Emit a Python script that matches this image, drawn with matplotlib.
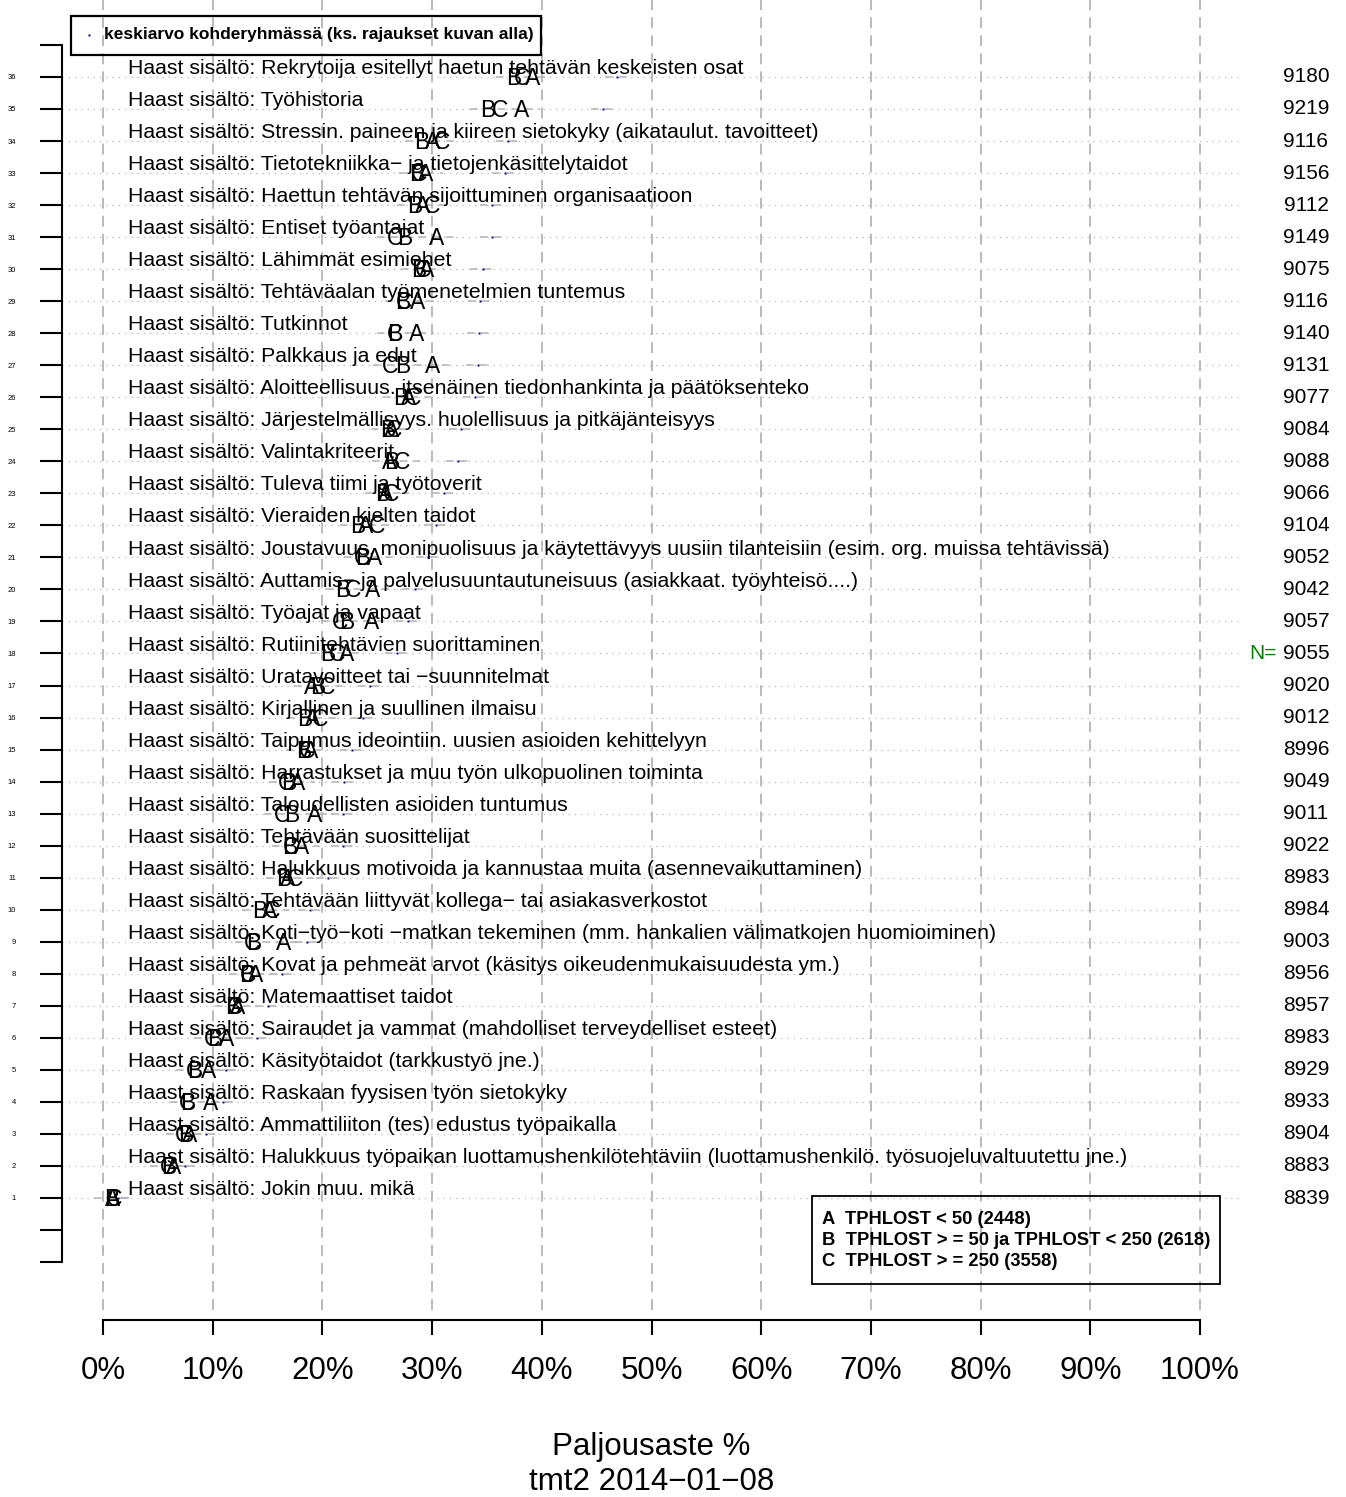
import numpy as np
import matplotlib
matplotlib.use("Agg")
import matplotlib.pyplot as plt
from matplotlib.patches import Rectangle

plt.rcParams['font.family'] = ['Liberation Sans', 'DejaVu Sans']

# rows listed top (36) to bottom (1)
labels = [
    "Rekrytoija esitellyt haetun tehtävän keskeisten osat",
    "Työhistoria",
    "Stressin. paineen ja kiireen sietokyky (aikataulut. tavoitteet)",
    "Tietotekniikka− ja tietojenkäsittelytaidot",
    "Haettun tehtävän sijoittuminen organisaatioon",
    "Entiset työantajat",
    "Lähimmät esimiehet",
    "Tehtäväalan työmenetelmien tuntemus",
    "Tutkinnot",
    "Palkkaus ja edut",
    "Aloitteellisuus. itsenäinen tiedonhankinta ja päätöksenteko",
    "Järjestelmällisyys. huolellisuus ja pitkäjänteisyys",
    "Valintakriteerit",
    "Tuleva tiimi ja työtoverit",
    "Vieraiden kielten taidot",
    "Joustavuus. monipuolisuus ja käytettävyys uusiin tilanteisiin (esim. org. muissa tehtävissä)",
    "Auttamis− ja palvelusuuntautuneisuus (asiakkaat. työyhteisö....)",
    "Työajat ja vapaat",
    "Rutiinitehtävien suorittaminen",
    "Uratavoitteet tai −suunnitelmat",
    "Kirjallinen ja suullinen ilmaisu",
    "Taipumus ideointiin. uusien asioiden kehittelyyn",
    "Harrastukset ja muu työn ulkopuolinen toiminta",
    "Taloudellisten asioiden tuntumus",
    "Tehtävään suosittelijat",
    "Halukkuus motivoida ja kannustaa muita (asennevaikuttaminen)",
    "Tehtävään liittyvät kollega− tai asiakasverkostot",
    "Koti−työ−koti −matkan tekeminen (mm. hankalien välimatkojen huomioiminen)",
    "Kovat ja pehmeät arvot (käsitys oikeudenmukaisuudesta ym.)",
    "Matemaattiset taidot",
    "Sairaudet ja vammat (mahdolliset terveydelliset esteet)",
    "Käsityötaidot (tarkkustyö jne.)",
    "Raskaan fyysisen työn sietokyky",
    "Ammattiliiton (tes) edustus työpaikalla",
    "Halukkuus työpaikan luottamushenkilötehtäviin (luottamushenkilö. työsuojeluvaltuutettu jne.)",
    "Jokin muu. mikä",
]
grp_a = [39.2, 38.2, 30.0, 29.4, 29.1, 30.4, 29.5, 28.7, 28.6, 30.0, 27.9, 26.3,
         26.1, 25.8, 23.9, 24.8, 24.6, 24.5, 22.2, 19.0, 19.1, 18.9, 17.7, 19.3,
         18.1, 16.8, 15.2, 16.5, 13.9, 12.3, 11.3, 9.6, 9.8, 7.9, 6.4, 0.9]
grp_b = [37.4, 35.1, 29.1, 28.6, 28.4, 27.5, 28.8, 27.3, 26.6, 27.3, 27.1, 26.0,
         26.3, 25.5, 23.2, 23.7, 21.9, 22.2, 20.5, 19.6, 18.4, 18.3, 16.9, 17.2,
         17.0, 16.5, 14.3, 13.7, 13.1, 11.8, 10.2, 8.4, 7.7, 7.5, 6.0, 0.8]
grp_c = [38.2, 36.2, 30.9, 28.8, 30.0, 26.6, 29.2, 27.4, 26.6, 26.2, 28.3, 26.5,
         27.3, 26.3, 25.0, 23.6, 22.8, 21.6, 21.3, 20.4, 19.8, 18.6, 16.7, 16.3,
         17.1, 17.5, 15.4, 13.6, 13.2, 12.0, 9.9, 8.3, 7.7, 7.3, 5.9, 1.0]
target_mean = [46.9, 45.6, 36.9, 36.6, 35.5, 35.5, 34.6, 34.4, 34.3, 34.2, 33.9, 32.6,
               32.4, 31.1, 30.4, 29.6, 28.4, 27.8, 26.8, 24.3, 23.7, 22.7, 22.0, 21.9,
               21.9, 20.5, 18.9, 18.6, 16.3, 15.0, 14.0, 11.2, 10.9, 9.4, 7.5, 1.4]
n_values = [9180, 9219, 9116, 9156, 9112, 9149, 9075, 9116, 9140, 9131, 9077, 9084,
            9088, 9066, 9104, 9052, 9042, 9057, 9055, 9020, 9012, 8996, 9049, 9011,
            9022, 8983, 8984, 9003, 8956, 8957, 8983, 8929, 8933, 8904, 8883, 8839]
legend_lines = ["A  TPHLOST < 50 (2448)",
                "B  TPHLOST > = 50 ja TPHLOST < 250 (2618)",
                "C  TPHLOST > = 250 (3558)"]

W, H = 1346, 1497
fig = plt.figure(figsize=(W / 100, H / 100), dpi=100)
ax = fig.add_axes([0, 0, 1, 1])

pxx = 10.97   # pixels per percent
pxy = 32.03   # pixels per row
ax.set_xlim(-103 / pxx, (W - 103) / pxx)
ax.set_ylim(1 - (H - 1198) / pxy, 1 + 1198 / pxy)

rows = np.arange(len(labels), 0, -1)
a = np.array(grp_a); b = np.array(grp_b); c = np.array(grp_c)
m = np.array(target_mean)

grey = '#b4b4b4'
xt = np.arange(0, 101, 10)
ax.vlines(xt, -2.5, 40, colors=grey, linestyles=(0, (6, 4)), lw=1.3, zorder=1)
ax.hlines(rows, -3.74, 103.8, colors='#b8b8b8', linestyles=(0, (1, 4)), lw=0.9, zorder=1)

lo = np.minimum(np.minimum(a, b), c)
hi = np.maximum(np.maximum(a, b), c)
ax.hlines(rows, lo - 1.6, hi + 1.6, colors=grey, linestyles=(0, (5, 4)), lw=1.1, zorder=2)
ax.hlines(rows, m - 1.1, m + 1.1, colors=grey, linestyles=(0, (5, 4)), lw=1.1, zorder=2)
ax.plot(m, rows, 's', color='navy', ms=1.4, mew=0, zorder=4)

for r, lab, xa, xb, xc, n in zip(rows, labels, a, b, c, n_values):
    ax.text(2.3, r + 0.09, "Haast sisältö: " + lab, fontsize=15.3, va='baseline', zorder=3)
    for x, s in ((xa, 'A'), (xb, 'B'), (xc, 'C')):
        ax.text(x, r - 0.25, s, fontsize=16.5, ha='center', va='baseline', zorder=5)
    ax.text(109.66, r, str(n), fontsize=15, ha='center', va='center')
ax.text(107.0, 18, "N=", fontsize=15, ha='right', va='center', color='#008000')

# axes
for s in ('top', 'right'):
    ax.spines[s].set_visible(False)
ax.spines['left'].set_position(('data', -3.74))
ax.spines['left'].set_bounds(-1, 37)
ax.spines['bottom'].set_position(('data', -2.81))
ax.spines['bottom'].set_bounds(0, 100)
ax.spines['left'].set_linewidth(1.5)
ax.spines['bottom'].set_linewidth(1.5)
yt = np.arange(-1, 38)
ax.set_yticks(yt)
ax.set_yticklabels([str(i) if 1 <= i <= 36 else '' for i in yt])
ax.tick_params(axis='y', length=16, width=1.5, pad=17, labelsize=5.5)
ax.set_xticks(xt)
ax.set_xticklabels([f"{v}%" for v in xt])
ax.tick_params(axis='x', length=11, width=1.5, pad=15, labelsize=22.5)

# legends
tf = fig.transFigure
fig.patches.append(Rectangle((71 / W, 1 - 55 / H), 470 / W, 39 / H, fill=False,
                             lw=1.6, ec='black', transform=tf))
fig.lines.append(plt.Line2D([89 / W], [1 - 35 / H], marker='s', ms=1.4, mew=0,
                            color='navy', transform=tf))
fig.text(104 / W, 1 - 35 / H, "keskiarvo kohderyhmässä (ks. rajaukset kuvan alla)",
         fontsize=12.5, fontweight='bold', va='center')

fig.patches.append(Rectangle((812 / W, 1 - 1284 / H), 408 / W, 88 / H, fill=False,
                             lw=1.3, ec='black', transform=tf))
for i, t in enumerate(legend_lines):
    fig.text(822 / W, 1 - (1219 + 21.5 * i) / H, t, fontsize=13.2, fontweight='bold', va='center')

fig.text(651.5 / W, 1 - 1447 / H, "Paljousaste %", fontsize=22.5, ha='center', va='center')
fig.text(651.5 / W, 1 - 1482 / H, "tmt2 2014−01−08", fontsize=22.5, ha='center', va='center')

fig.savefig("out.png", dpi=100)
